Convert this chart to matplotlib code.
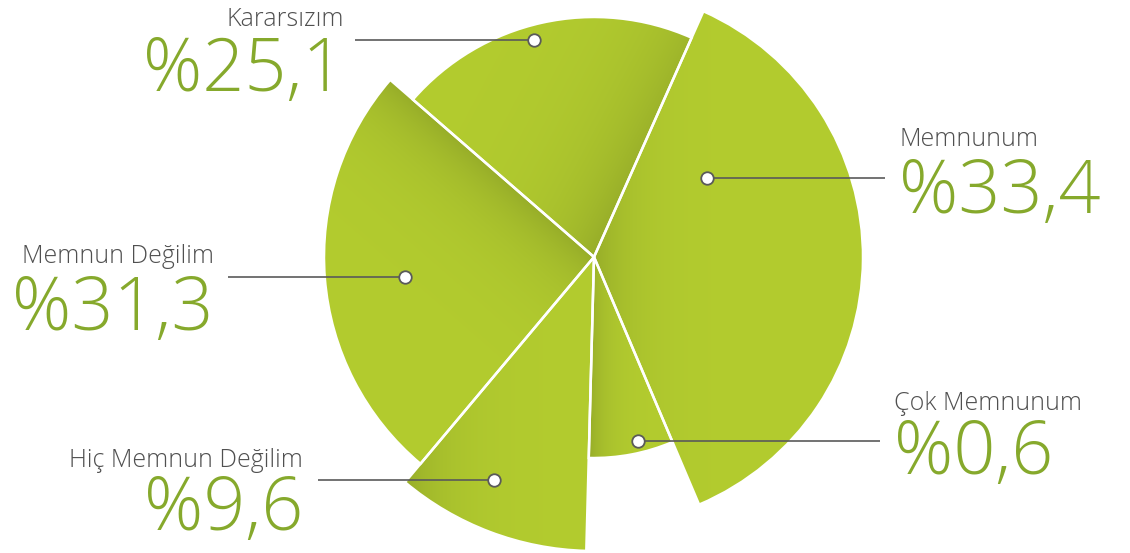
import numpy as np
import matplotlib
matplotlib.use("Agg")
import matplotlib.pyplot as plt
from matplotlib.colors import to_rgb
from matplotlib.patches import Wedge

labels = ["Memnunum", "Kararsızım", "Memnun Değilim", "Hiç Memnun Değilim", "Çok Memnunum"]
percents = [33.4, 25.1, 31.3, 9.6, 0.6]
# sweep of each slice as drawn in the picture (degrees, not proportional to the %)
sweep = [133, 73, 91, 38.5, 24.5]
radius = [269, 240, 270, 294, 201]

W, H = 1130, 553
center = (594, H - 257)
start_angle = -67

light = np.array(to_rgb("#b3cc2f"))
dark = np.array(to_rgb("#97ad29"))
green_text = "#86a92c"
gray_text = "#505050"
line_gray = "#5a5a5a"

# shading of each slice: direction of the light ramp (deg) and its length (px)
shade_dir = [0, 152, 229, 0, 0]
shade_len = [34, 52, 40, 40, 17]

# label layout, picture coords (y from top)
# (dot x, line end x, line y, text x, align, name baseline, number baseline)
layout = [
    (707, 885, 178, 899, "left", 146, 213),
    (534, 355, 40, 344, "right", 26, 91),
    (405, 228, 277, 214, "right", 263, 330),
    (494, 318, 480, 303, "right", 467, 530),
    (638, 880, 441, 894, "left", 410, 474),
]

fig = plt.figure(figsize=(W / 100, H / 100), dpi=100)
ax = fig.add_axes([0, 0, 1, 1])

yy, xx = np.mgrid[0:H, 0:W] + 0.5
ang = np.degrees(np.arctan2(yy - center[1], xx - center[0]))
dist = np.hypot(xx - center[0], yy - center[1])

theta = start_angle
for sw, r, sd, sl in zip(sweep, radius, shade_dir, shade_len):
    t1, t2 = theta, theta + sw
    inside = ((ang - t1) % 360 <= sw) & (dist <= r)
    proj = (xx - center[0]) * np.cos(np.radians(sd)) + (yy - center[1]) * np.sin(np.radians(sd))
    proj = proj - proj[inside].min()
    k = np.exp(-proj / sl)
    img = light + (dark - light) * k[..., None]
    im = ax.imshow(img, extent=(0, W, 0, H), origin="lower", zorder=1, interpolation="bilinear")
    clip = Wedge(center, r, t1, t2, facecolor="none", edgecolor="none")
    ax.add_patch(clip)
    im.set_clip_path(clip)
    ax.add_patch(Wedge(center, r, t1, t2, facecolor="none", edgecolor="white", lw=1.8, zorder=2))
    theta = t2

for name, pct, (dx, lx, ly, tx, ha, nb, pb) in zip(labels, percents, layout):
    ax.plot([dx, lx], [H - ly, H - ly], color=line_gray, lw=1.2, zorder=3, solid_capstyle="butt")
    ax.plot(dx, H - ly, "o", ms=9, mfc="white", mec=line_gray, mew=1.3, zorder=4)
    ax.text(tx, H - nb, name, ha=ha, va="baseline", fontsize=18, color=gray_text,
            family="Open Sans", fontweight="light", zorder=5)
    ax.text(tx, H - pb, "%" + f"{pct:.1f}".replace(".", ","), ha=ha, va="baseline",
            fontsize=53, color=green_text, family="Open Sans", fontweight="light", zorder=5)

ax.set_xlim(0, W)
ax.set_ylim(0, H)
ax.set_aspect("auto")
ax.axis("off")

fig.savefig("out.png", dpi=100, facecolor="white")
